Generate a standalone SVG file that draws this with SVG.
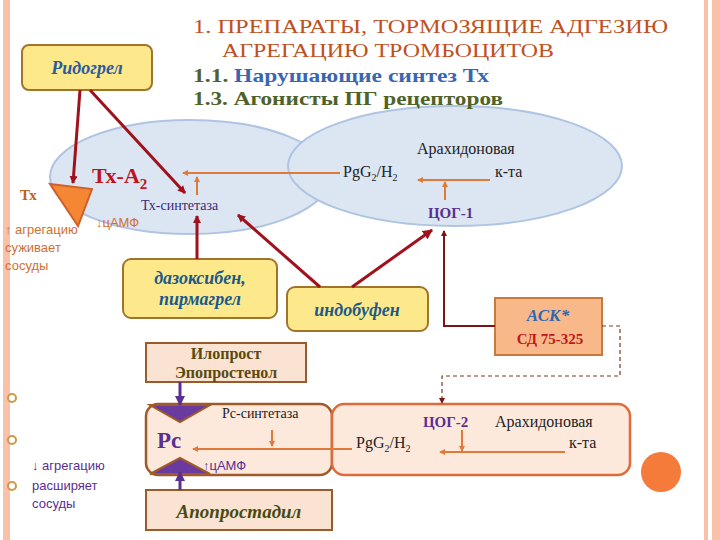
<svg xmlns="http://www.w3.org/2000/svg" width="720" height="540" viewBox="0 0 720 540">
<defs>
<style>
.s{font-family:"Liberation Serif","DejaVu Serif",serif}
.a{font-family:"Liberation Sans","DejaVu Sans",sans-serif}
.ybox{fill:#fde98c;stroke:#a0742a;stroke-width:2}
.pbox{fill:#fbe3d3;stroke:#9a5a2a;stroke-width:2}
.ell{fill:#dce6f2;stroke:#aec4e2;stroke-width:2}
.red{stroke:#a0111c;stroke-width:3;fill:none}
.or{stroke:#e07a3a;stroke-width:2;fill:none}
.pu{stroke:#5b2e91;stroke-width:3;fill:none}
.dk{stroke:#7a1515;stroke-width:2;fill:none}
</style>
<marker id="mr" markerWidth="8" markerHeight="8" refX="7" refY="4" orient="auto" markerUnits="userSpaceOnUse"><path d="M0,0L8,4L0,8z" fill="#a0111c"/></marker>
<marker id="mr2" markerWidth="10" markerHeight="10" refX="9" refY="5" orient="auto" markerUnits="userSpaceOnUse"><path d="M0,0L10,5L0,10z" fill="#a0111c"/></marker>
<marker id="mo" markerWidth="6" markerHeight="6" refX="5" refY="3" orient="auto" markerUnits="userSpaceOnUse"><path d="M0,0L6,3L0,6z" fill="#e07a3a"/></marker>
<marker id="mp" markerWidth="10" markerHeight="10" refX="9" refY="5" orient="auto" markerUnits="userSpaceOnUse"><path d="M0,0L10,5L0,10z" fill="#5b2e91"/></marker>
<marker id="md" markerWidth="6" markerHeight="6" refX="5" refY="3" orient="auto" markerUnits="userSpaceOnUse"><path d="M0,0L6,3L0,6z" fill="#7a1515"/></marker>
</defs>
<rect width="720" height="540" fill="#fff"/>
<rect x="3" y="0" width="7" height="540" fill="#f8c1a8"/>
<rect x="704" y="0" width="4" height="540" fill="#f8c1a8"/>
<rect x="712" y="0" width="8" height="540" fill="#f8c1a8"/>
<circle cx="661" cy="472" r="20" fill="#f47b3a"/>
<g fill="#fff" stroke="#c89a4a" stroke-width="2"><circle cx="12" cy="398" r="4"/><circle cx="12" cy="440" r="4"/><circle cx="12" cy="486" r="4"/></g>

<g id="ellipses">
<ellipse class="ell" cx="190" cy="177" rx="140" ry="57"/>
<ellipse class="ell" cx="455" cy="166" rx="167" ry="60"/>
</g>

<g id="title" font-family="'Liberation Serif','DejaVu Serif',serif" font-size="19">
<text x="193" y="33" fill="#c0501e" textLength="475" lengthAdjust="spacingAndGlyphs">1. ПРЕПАРАТЫ, ТОРМОЗЯЩИЕ АДГЕЗИЮ</text>
<text x="222" y="57" fill="#c0501e" textLength="332" lengthAdjust="spacingAndGlyphs">АГРЕГАЦИЮ ТРОМБОЦИТОВ</text>
<text x="193" y="82" font-weight="bold" fill="#4f6228" textLength="296" lengthAdjust="spacingAndGlyphs">1.1. <tspan fill="#3a66b0">Нарушающие синтез Тх</tspan></text>
<text x="193" y="105" font-weight="bold" fill="#4f6228" textLength="310" lengthAdjust="spacingAndGlyphs">1.3. Агонисты ПГ рецепторов</text>
</g>

<g id="tx">
<polygon points="50,184 92,189 78,226" fill="#f58634" stroke="#d0602a" stroke-width="2"/>
<text x="20" y="200" font-family="'Liberation Serif',serif" font-size="15" font-weight="bold" fill="#c06020">Тх</text>
<text x="92" y="183" font-family="'Liberation Serif',serif" font-size="22" font-weight="bold" fill="#c0141c">Тх-А<tspan font-size="15" dy="6">2</tspan></text>
<text x="141" y="210" font-family="'Liberation Serif',serif" font-size="14" fill="#3b2a7a">Тх-синтетаза</text>
<text x="96" y="227" class="a" font-size="13" fill="#d07030">↓цАМФ</text>
<text x="5" y="234" class="a" font-size="13" fill="#d07030">↑ агрегацию</text>
<text x="5" y="252" class="a" font-size="13" fill="#d07030">суживает</text>
<text x="5" y="270" class="a" font-size="13" fill="#d07030">сосуды</text>
</g>

<g id="right-ell" font-family="'Liberation Serif',serif" font-size="16" fill="#222">
<text x="417" y="154">Арахидоновая</text>
<text x="495" y="177">к-та</text>
<text x="343" y="177">PgG<tspan font-size="10" dy="4">2</tspan><tspan dy="-4">/H</tspan><tspan font-size="10" dy="4">2</tspan></text>
<text x="428" y="218" font-size="15" font-weight="bold" fill="#5b2e91">ЦОГ-1</text>
</g>

<g id="ridogrel"><rect class="ybox" x="22" y="45" width="130" height="45" rx="7"/>
<text x="87" y="74" text-anchor="middle" font-family="'Liberation Serif',serif" font-size="18" font-style="italic" font-weight="bold" fill="#2a5aa0">Ридогрел</text></g>

<g id="dazoxiben"><rect class="ybox" x="123" y="259" width="154" height="59" rx="8"/>
<text x="200" y="284" text-anchor="middle" font-family="'Liberation Serif',serif" font-size="18" font-style="italic" font-weight="bold" fill="#1a5a8a">дазоксибен,</text>
<text x="200" y="305" text-anchor="middle" font-family="'Liberation Serif',serif" font-size="18" font-style="italic" font-weight="bold" fill="#1a5a8a">пирмагрел</text></g>

<g id="indobufen"><rect class="ybox" x="287" y="287" width="141" height="44" rx="8"/>
<text x="357" y="316" text-anchor="middle" font-family="'Liberation Serif',serif" font-size="18" font-style="italic" font-weight="bold" fill="#1a5a8a">индобуфен</text></g>

<g id="ask"><rect x="495" y="298" width="107" height="57" fill="#f9b88a" stroke="#c87a3a" stroke-width="2"/>
<text x="548" y="321" text-anchor="middle" font-family="'Liberation Serif',serif" font-size="17" font-style="italic" font-weight="bold" fill="#2a6ab0">АСК*</text>
<text x="550" y="344" text-anchor="middle" font-family="'Liberation Serif',serif" font-size="15" font-weight="bold" fill="#c01818">СД 75-325</text></g>

<g id="iloprost"><rect class="pbox" x="146" y="343" width="160" height="39"/>
<text x="226" y="359" text-anchor="middle" font-family="'Liberation Serif',serif" font-size="16" font-weight="bold" fill="#5a4a10">Илопрост</text>
<text x="226" y="378" text-anchor="middle" font-family="'Liberation Serif',serif" font-size="16" font-weight="bold" fill="#5a4a10">Эпопростенол</text></g>

<g id="pc">
<rect x="146" y="404" width="186" height="71" rx="12" fill="#fde9dc" stroke="#a05a28" stroke-width="2.5"/>
<polygon points="150,405 210,405 180,422" fill="#6a3aa0" stroke="#a05a28" stroke-width="2"/>
<polygon points="150,474 210,474 180,458" fill="#6a3aa0" stroke="#a05a28" stroke-width="2"/>
<text x="157" y="448" font-family="'Liberation Serif',serif" font-size="23" font-weight="bold" fill="#5b2e91">Pc</text>
<text x="222" y="418" font-family="'Liberation Serif',serif" font-size="14" fill="#222">Pc-синтетаза</text>
<text x="203" y="470" class="a" font-size="13" fill="#5b2e91">↑цАМФ</text>
</g>

<g id="cox2" font-family="'Liberation Serif',serif">
<rect x="332" y="404" width="298" height="71" rx="12" fill="#fde9dc" stroke="#e06a3a" stroke-width="2.5"/>
<text x="423" y="427" font-size="15" font-weight="bold" fill="#5b2e91">ЦОГ-2</text>
<text x="495" y="427" font-size="16" fill="#222">Арахидоновая</text>
<text x="569" y="448" font-size="16" fill="#222">к-та</text>
<text x="356" y="448" font-size="16" fill="#222">PgG<tspan font-size="10" dy="4">2</tspan><tspan dy="-4">/H</tspan><tspan font-size="10" dy="4">2</tspan></text>
</g>

<g id="alprostadil"><rect class="pbox" x="146" y="490" width="186" height="40"/>
<text x="239" y="518" text-anchor="middle" font-family="'Liberation Serif',serif" font-size="19" font-style="italic" font-weight="bold" fill="#4a4a10">Апопростадил</text></g>

<text x="32" y="470" class="a" font-size="13" fill="#5b2e91">↓ агрегацию</text>
<text x="32" y="490" class="a" font-size="13" fill="#5b2e91">расширяет</text>
<text x="32" y="508" class="a" font-size="13" fill="#5b2e91">сосуды</text>

<g id="connectors">
<line class="red" x1="80" y1="90" x2="73" y2="183" marker-end="url(#mr)"/>
<line class="red" x1="90" y1="90" x2="185" y2="193" marker-end="url(#mr)"/>
<line class="red" x1="197" y1="259" x2="197" y2="216" marker-end="url(#mr)"/>
<line class="red" x1="320" y1="287" x2="238" y2="215" marker-end="url(#mr)"/>
<line class="red" x1="352" y1="287" x2="432" y2="230" marker-end="url(#mr2)"/>
<line class="or" x1="340" y1="173" x2="183" y2="173" marker-end="url(#mo)"/>
<line class="or" x1="197" y1="195" x2="197" y2="177" marker-end="url(#mo)"/>
<line class="or" x1="490" y1="180" x2="418" y2="180" stroke-width="3" marker-end="url(#mo)"/>
<line class="or" x1="445" y1="200" x2="445" y2="182" marker-end="url(#mo)"/>
<polyline class="dk" points="495,326 444,326 444,231" marker-end="url(#md)"/>
<polyline points="602,326 620,326 620,376 442,376 442,403" fill="none" stroke="#7a3a1a" stroke-width="1.2" stroke-dasharray="4,3" marker-end="url(#md)"/>
<line class="or" x1="462" y1="430" x2="462" y2="451" marker-end="url(#mo)"/>
<line class="or" x1="565" y1="452" x2="440" y2="452" marker-end="url(#mo)"/>
<line class="or" x1="352" y1="449" x2="193" y2="449" marker-end="url(#mo)"/>
<line class="or" x1="272" y1="430" x2="272" y2="446" marker-end="url(#mo)"/>
<line class="pu" x1="180" y1="382" x2="180" y2="405" marker-end="url(#mp)"/>
<line class="pu" x1="180" y1="490" x2="180" y2="472" marker-end="url(#mp)"/>
</g>
</svg>
